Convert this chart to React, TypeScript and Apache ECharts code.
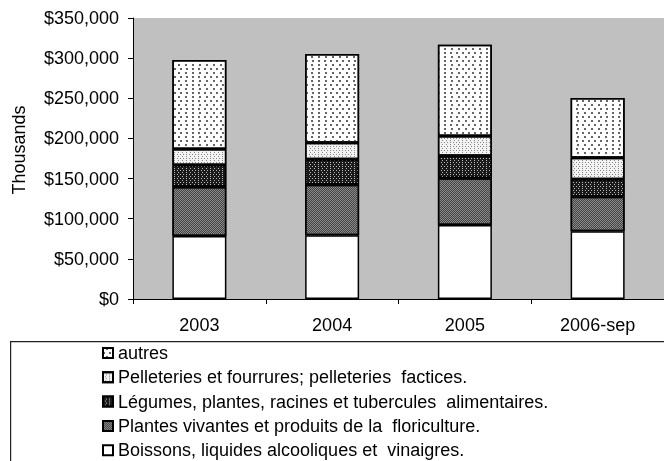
import React, { useEffect, useRef } from "react";
import * as echarts from "echarts";

const categories = ["2003", "2004", "2005", "2006-sep"];
const boissons = [78500, 79300, 92200, 84300];
const plantes = [61000, 63100, 58100, 43100];
const legumes = [27500, 31600, 28200, 21600];
const pelleteries = [19900, 20700, 24500, 27000];
const autres = [110900, 110500, 113800, 74400];

const names = [
  "Boissons, liquides alcooliques et  vinaigres.",
  "Plantes vivantes et produits de la  floriculture.",
  "Légumes, plantes, racines et tubercules  alimentaires.",
  "Pelleteries et fourrures; pelleteries  factices.",
  "autres",
];
const yTitle = "Thousands";

const FONT = "Liberation Sans, Arial, sans-serif";
const FS = 18;

export default function App() {
  const ref = useRef<HTMLDivElement>(null);
  useEffect(() => {
    if (!ref.current) return;
    const chart = echarts.init(ref.current, null, { renderer: "svg" });
    const border = { borderColor: "#000", borderWidth: 1.5 };
    const mk = (name: string, data: number[], color: string, decal: any) => ({
      name,
      type: "bar",
      stack: "total",
      data,
      barWidth: 54,
      itemStyle: { color, ...border, decal },
    });
    chart.setOption({
      animation: false,
      aria: { enabled: false, decal: { show: true } },
      textStyle: { fontFamily: FONT },
      grid: {
        left: 133,
        top: 18,
        width: 535,
        height: 281,
        show: true,
        backgroundColor: "#c0c0c0",
        borderWidth: 0,
      },
      graphic: [
        {
          type: "rect",
          left: 10,
          top: 341,
          z: 0,
          shape: { width: 700, height: 160 },
          style: { fill: "transparent", stroke: "#222", lineWidth: 1.2 },
        },
        {
          type: "text",
          x: 19,
          y: 150,
          rotation: Math.PI / 2,
          style: {
            text: yTitle,
            fontFamily: FONT,
            fontSize: FS,
            fill: "#000",
            align: "center",
            verticalAlign: "middle",
          },
        },
      ],
      legend: {
        orient: "vertical",
        left: 97,
        top: 339,
        height: 200,
        itemGap: 6.3,
        itemWidth: 10,
        itemHeight: 10,
        icon: "rect",
        textStyle: { fontFamily: FONT, fontSize: FS, color: "#000" },
        data: [names[4], names[3], names[2], names[1], names[0]],
      },
      xAxis: {
        type: "category",
        data: categories,
        axisLine: { lineStyle: { color: "#000", width: 1 } },
        axisTick: { show: true, length: 5, lineStyle: { color: "#000" } },
        axisLabel: { fontFamily: FONT, fontSize: FS, color: "#000", margin: 17 },
      },
      yAxis: {
        type: "value",
        min: 0,
        max: 350000,
        interval: 50000,
        axisLine: { show: true, lineStyle: { color: "#000", width: 1 } },
        axisTick: { show: true, length: 5, lineStyle: { color: "#000" } },
        splitLine: { show: false },
        axisLabel: {
          fontFamily: FONT,
          fontSize: FS,
          color: "#000",
          margin: 14,
          formatter: (v: number) => "$" + v.toLocaleString("en-US"),
        },
      },
      series: [
        mk(names[0], boissons, "#ffffff", "none"),
        mk(names[1], plantes, "#8a8a8a", {
          symbol: "rect",
          color: "#444",
          symbolSize: 1,
          dashArrayX: [[1, 1], [0, 1, 1, 0]],
          dashArrayY: [1, 0],
        }),
        mk(names[2], legumes, "#1a1a1a", {
          symbol: "rect",
          color: "#bbbbbb",
          symbolSize: 1,
          dashArrayX: [[1, 2], [0, 1.5, 1, 0.5]],
          dashArrayY: [1, 1],
        }),
        mk(names[3], pelleteries, "#f2f2f2", {
          symbol: "rect",
          color: "#888",
          symbolSize: 1,
          dashArrayX: [[1, 2], [0, 1.5, 1, 0.5]],
          dashArrayY: [1, 1],
        }),
        mk(names[4], autres, "#ffffff", {
          symbol: "rect",
          color: "#666",
          symbolSize: 1,
          dashArrayX: [[1.5, 4], [0, 2.75, 1.5, 1.25]],
          dashArrayY: [1.5, 1.2],
        }),
      ],
    });
    return () => chart.dispose();
  }, []);
  return (
    <div
      ref={ref}
      style={{ position: "fixed", left: 0, top: 0, width: 664, height: 461 }}
    />
  );
}
